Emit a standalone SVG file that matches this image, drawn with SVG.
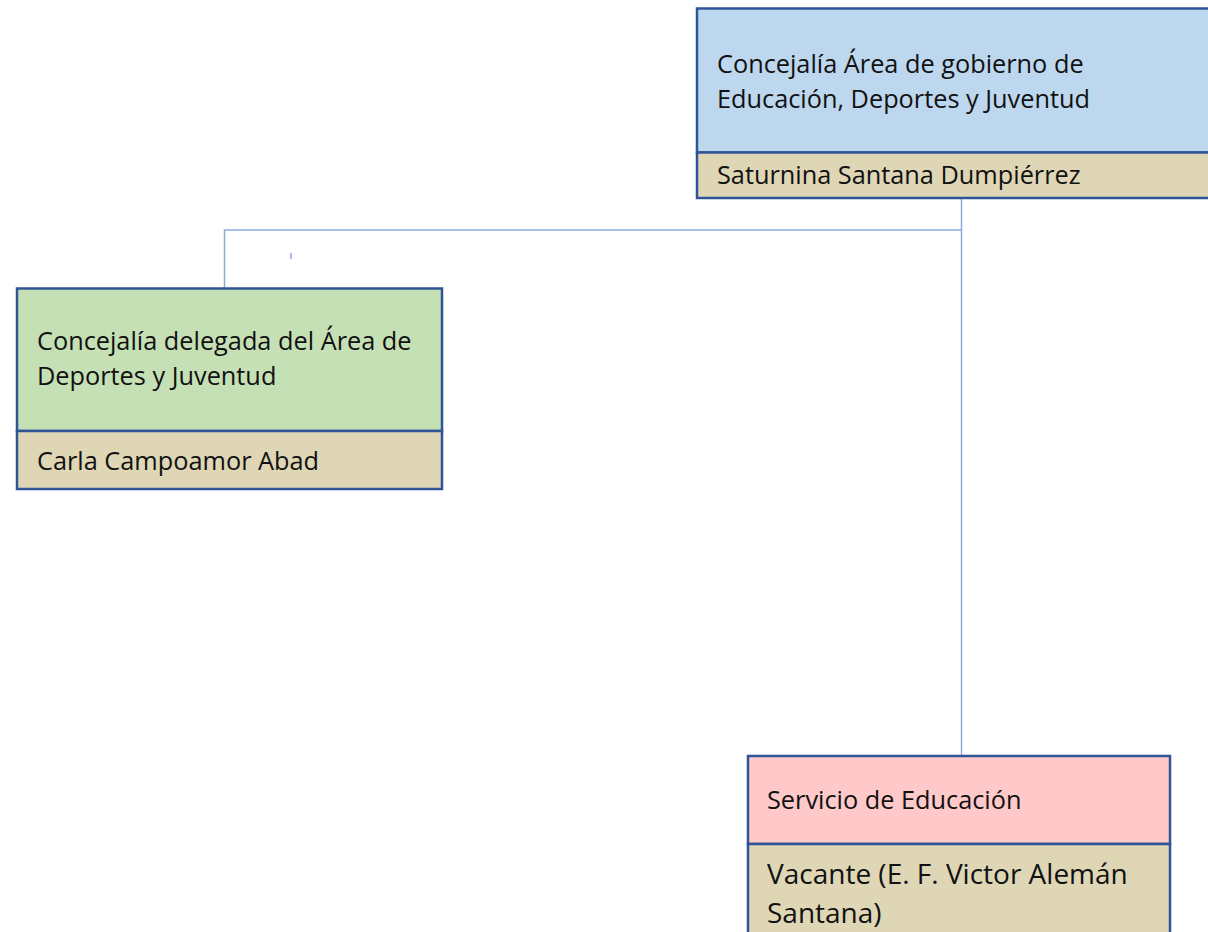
<svg xmlns="http://www.w3.org/2000/svg" width="1208" height="932" viewBox="0 0 1208 932">
<style>
.box{stroke:#2F5597;stroke-width:2.5}
.t{font-family:"Open Sans","Noto Sans","Liberation Sans",sans-serif;font-size:25.3px;fill:#111}
.tl{font-family:"Open Sans","Noto Sans","Liberation Sans",sans-serif;font-size:28px;fill:#111}
.c{fill:none;stroke:#8FAADC;stroke-width:1.5}
</style>
<rect width="1208" height="932" fill="#fff"/>
<g id="connectors">
<path class="c" d="M961.5 198 V755"/>
<path class="c" d="M961.5 230 H224.5 V288"/>
<path class="c" d="M291 253 V259"/>
</g>
<g id="node-area">
<rect class="box" x="697" y="8.5" width="520" height="144" fill="#BDD7EE"/>
<rect class="box" x="697" y="152.5" width="520" height="45.5" fill="#DED6B4"/>
<text class="t" x="717" y="73">Concejalía Área de gobierno de</text>
<text class="t" x="717" y="108">Educación, Deportes y Juventud</text>
<text class="t" x="717" y="184">Saturnina Santana Dumpiérrez</text>
</g>
<g id="node-delegada">
<rect class="box" x="17" y="288.5" width="425" height="142.5" fill="#C5E0B4"/>
<rect class="box" x="17" y="431" width="425" height="58" fill="#DED6B4"/>
<text class="t" x="37" y="350">Concejalía delegada del Área de</text>
<text class="t" x="37" y="385">Deportes y Juventud</text>
<text class="t" x="37" y="470">Carla Campoamor Abad</text>
</g>
<g id="node-servicio">
<rect class="box" x="748" y="756" width="422" height="88" fill="#FFC9C9"/>
<rect class="box" x="748" y="844" width="422" height="100" fill="#DED6B4"/>
<text class="t" x="767" y="809">Servicio de Educación</text>
<text class="tl" x="767" y="884">Vacante (E. F. Victor Alemán</text>
<text class="tl" x="767" y="923">Santana)</text>
</g>
</svg>
